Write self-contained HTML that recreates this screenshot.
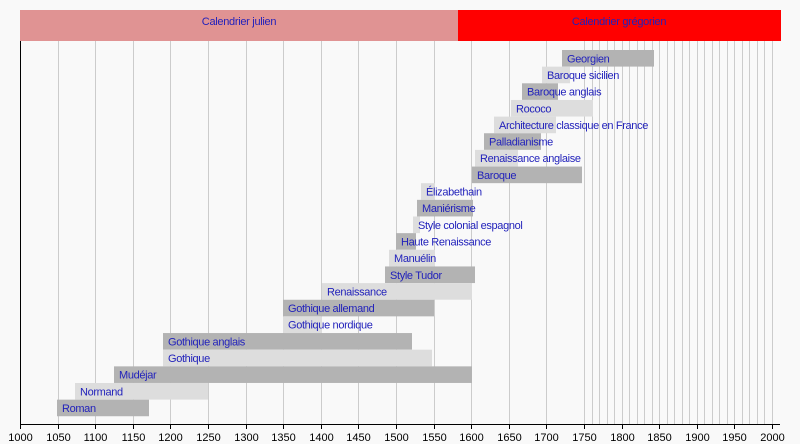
<!DOCTYPE html>
<html><head><meta charset="utf-8"><style>
body{margin:0;background:#f9f9f9;}
svg{display:block;font-family:"Liberation Sans",sans-serif;}
</style></head><body>
<svg width="800" height="444" viewBox="0 0 800 444">
<rect width="800" height="444" fill="#f9f9f9"/>
<g id="grid" stroke="#cccccc" stroke-width="1"></g>
<rect x="20" y="10" width="438" height="31" fill="#e09393"/>
<rect x="458" y="10" width="323" height="31" fill="#ff0000"/>
<text x="239" y="25" font-size="11" fill="#2222bb" text-anchor="middle" letter-spacing="-0.3">Calendrier julien</text>
<text x="619" y="25" font-size="11" fill="#2222bb" text-anchor="middle" letter-spacing="-0.3">Calendrier grégorien</text>
<g id="bars"></g>
<line x1="20.5" y1="41" x2="20.5" y2="425" stroke="#000"/>
<line x1="20" y1="424.5" x2="780" y2="424.5" stroke="#000"/>
<g id="ticks" font-size="11" fill="#000" text-anchor="middle"></g>
</svg>
<script>
var ns="http://www.w3.org/2000/svg";
function X(y){return 20+(y-1000)*0.752;}
var g=document.getElementById('grid');
function ln(p,x1,y1,x2,y2,c){var l=document.createElementNS(ns,'line');l.setAttribute('x1',x1);l.setAttribute('y1',y1);l.setAttribute('x2',x2);l.setAttribute('y2',y2);if(c)l.setAttribute('stroke',c);p.appendChild(l);}
for(var y=1050;y<=2000;y+=(y<1750?50:10)){var x=Math.round(X(y))+0.5;ln(g,x,41,x,424);}
var t=document.getElementById('ticks');
for(var y=1000;y<=2000;y+=50){var x=Math.round(X(y))+0.5;ln(t,x,424,x,429,'#000');var tx=document.createElementNS(ns,'text');tx.setAttribute('x',x);tx.setAttribute('y',441);tx.textContent=y;t.appendChild(tx);}
var rows=[
["Georgien",562,654,1],["Baroque sicilien",542,570,0],["Baroque anglais",522,558,1],["Rococo",511,593,0],
["Architecture classique en France",494,556,0],["Palladianisme",484,541,1],["Renaissance anglaise",475,518,0],
["Baroque",472,582,1],["Élizabethain",421,435,0],["Maniérisme",417,473,1],["Style colonial espagnol",413,420,0],
["Haute Renaissance",396,416,1],["Manuélin",389,435,0],["Style Tudor",385,475,1],["Renaissance",322,472,0],
["Gothique allemand",283,434,1],["Gothique nordique",283,322,0],["Gothique anglais",163,412,1],["Gothique",163,432,0],
["Mudéjar",114,472,1],["Normand",75,208,0],["Roman",57,149,1]];
var b=document.getElementById('bars');
rows.forEach(function(r,i){var y=50+i*16.65;var rc=document.createElementNS(ns,'rect');rc.setAttribute('x',r[1]);rc.setAttribute('y',y);rc.setAttribute('width',r[2]-r[1]);rc.setAttribute('height',16.6);rc.setAttribute('fill',r[3]?'#b3b3b3':'#dddddd');b.appendChild(rc);
var tx=document.createElementNS(ns,'text');tx.setAttribute('x',r[1]+5);tx.setAttribute('y',y+12.3);tx.setAttribute('font-size','11');tx.setAttribute('letter-spacing','-0.35');tx.setAttribute('fill','#2222bb');tx.textContent=r[0];b.appendChild(tx);});
</script>
</body></html>
